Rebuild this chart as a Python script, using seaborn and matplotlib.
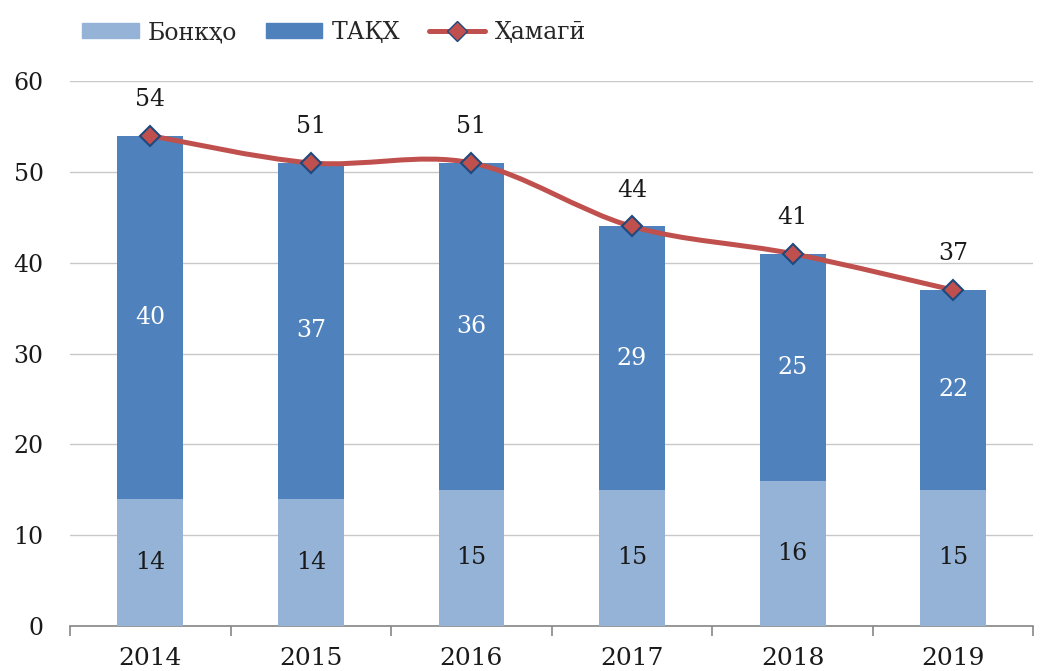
import numpy as np
import pandas as pd
import matplotlib
matplotlib.use('Agg')
import matplotlib.pyplot as plt
import seaborn as sns
from matplotlib.path import Path
from matplotlib.patches import PathPatch
from matplotlib.lines import Line2D
from matplotlib.patches import Patch

# Data
years = ['2014', '2015', '2016', '2017', '2018', '2019']
bonkho = [14, 14, 15, 15, 16, 15]
takx = [40, 37, 36, 29, 25, 22]
total = [54, 51, 51, 44, 41, 37]

c_light = '#95B3D7'
c_dark = '#4F81BD'
c_line = '#C0504D'

sns.set_theme(style='white')
plt.rcParams['font.family'] = ['DejaVu Serif']

df = pd.DataFrame({'year': years, 'bonkho': bonkho, 'takx': takx, 'total': total})

fig = plt.figure(figsize=(10.46, 6.71), dpi=100)
ax = fig.add_axes([0.067, 0.067, 0.921, 0.812])

bw = 0.41
sns.barplot(data=df, x='year', y='total', color=c_dark, width=bw, ax=ax,
            saturation=1, linewidth=0, zorder=2)
sns.barplot(data=df, x='year', y='bonkho', color=c_light, width=bw, ax=ax,
            saturation=1, linewidth=0, zorder=3)

# smooth line via Catmull-Rom bezier segments
x = np.arange(len(years), dtype=float)
y = np.array(total, dtype=float)
verts = [(x[0], y[0])]
codes = [Path.MOVETO]
for i in range(len(x) - 1):
    p0 = (x[i - 1], y[i - 1]) if i > 0 else (x[i], y[i])
    p1 = (x[i], y[i])
    p2 = (x[i + 1], y[i + 1])
    p3 = (x[i + 2], y[i + 2]) if i + 2 < len(x) else p2
    t = 1 / 6
    c1 = (p1[0] + (p2[0] - p0[0]) * t, p1[1] + (p2[1] - p0[1]) * t)
    c2 = (p2[0] - (p3[0] - p1[0]) * t, p2[1] - (p3[1] - p1[1]) * t)
    verts += [c1, c2, p2]
    codes += [Path.CURVE4] * 3
ax.add_patch(PathPatch(Path(verts, codes), facecolor='none', edgecolor=c_line,
                       lw=3.6, zorder=4, capstyle='round'))
ax.plot(x, y, linestyle='none', marker='D', markersize=10.5,
        markerfacecolor=c_line, markeredgecolor='#1F497D', markeredgewidth=1.5, zorder=5)

# labels
for i in range(len(years)):
    ax.text(x[i], bonkho[i] / 2, str(bonkho[i]), ha='center', va='center',
            fontsize=17, color='#1a1a1a', zorder=6)
    ax.text(x[i], bonkho[i] + takx[i] / 2, str(takx[i]), ha='center', va='center',
            fontsize=17, color='white', zorder=6)
    ax.text(x[i], total[i] + 4, str(total[i]), ha='center', va='center',
            fontsize=17, color='#1a1a1a', zorder=6)

ax.set_ylim(0, 60)
ax.set_xlim(-0.5, len(years) - 0.5)
ax.set_yticks(range(0, 61, 10))
ax.yaxis.grid(True, color='#C8C8C8', lw=1)
ax.set_axisbelow(True)
ax.set_xlabel('')
ax.set_ylabel('')
for s in ['left', 'right', 'top']:
    ax.spines[s].set_visible(False)
ax.spines['bottom'].set_color('#868686')
ax.spines['bottom'].set_linewidth(1.2)
ax.set_xticks(np.arange(-0.5, len(years), 1), minor=True)
ax.tick_params(axis='x', which='minor', bottom=True, length=7, color='#868686', width=1.2)
ax.tick_params(axis='x', which='major', bottom=False, labelsize=18, pad=9, colors='#1a1a1a')
ax.tick_params(axis='y', left=False, labelsize=17, pad=13, colors='#1a1a1a')
ax.set_xticks(x)
ax.set_xticklabels(years)

handles = [Patch(color=c_light, label='Бонкҳо'),
           Patch(color=c_dark, label='ТАҚХ'),
           Line2D([0], [0], color=c_line, lw=3.6, marker='D', markersize=10.5,
                  markerfacecolor=c_line, markeredgecolor='#1F497D', label='Ҳамагӣ')]
fig.legend(handles=handles, loc='upper left', bbox_to_anchor=(0.058, 1.0), ncol=3,
           frameon=False, fontsize=17, handlelength=2.4, handleheight=0.6,
           columnspacing=1.2, handletextpad=0.4)

fig.savefig('out.png', dpi=100)
